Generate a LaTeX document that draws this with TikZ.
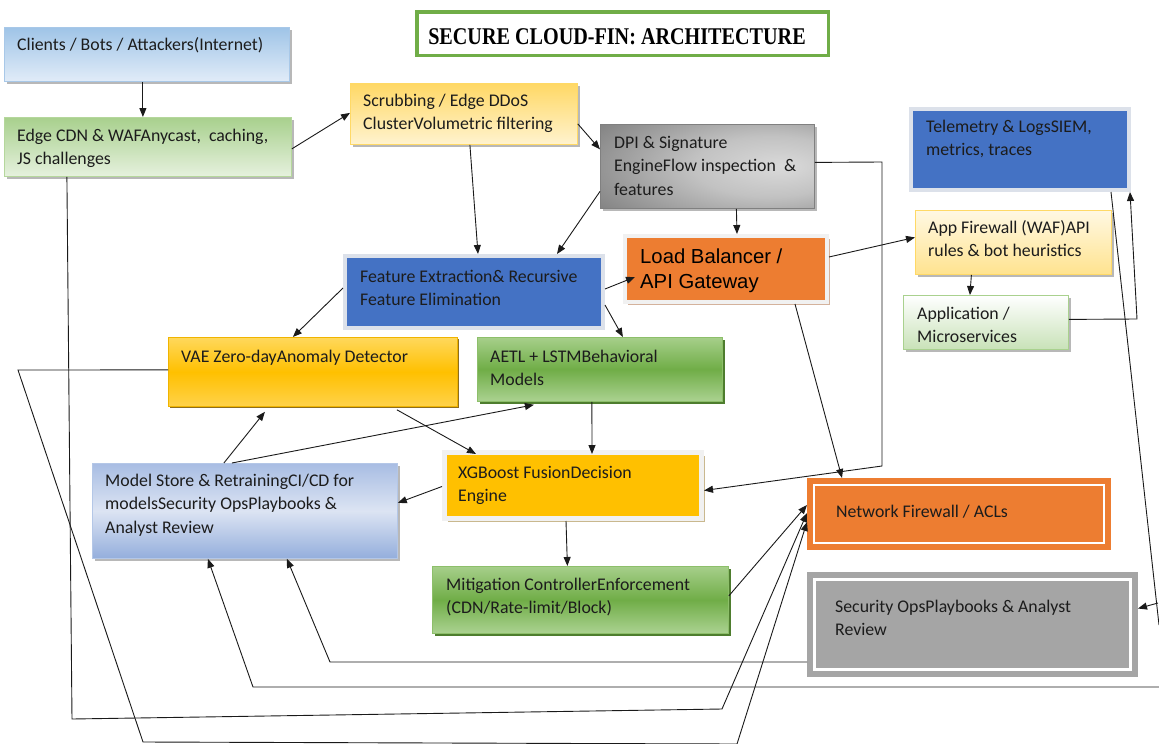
\documentclass[tikz,border=0pt]{standalone}
\usepackage{fontspec}
\setmainfont{Carlito}
\newfontfamily\arialfont{Liberation Sans}
\newfontfamily\titlefont{Liberation Serif}
\usetikzlibrary{arrows.meta,shadows,calc}

\definecolor{ink}{HTML}{1C1C1C}
\definecolor{wire}{HTML}{1A1A1A}
\definecolor{cliTop}{HTML}{9FC4E7}
\definecolor{cliBot}{HTML}{E1ECF8}
\definecolor{cliEdge}{HTML}{A8C8E8}
\definecolor{edgeTop}{HTML}{A8D08D}
\definecolor{edgeBot}{HTML}{E6F1DE}
\definecolor{edgeLine}{HTML}{B5D79C}
\definecolor{scrTop}{HTML}{FFD865}
\definecolor{scrBot}{HTML}{FFF3CF}
\definecolor{scrLine}{HTML}{FFD966}
\definecolor{dpiIn}{HTML}{DADADA}
\definecolor{dpiMid}{HTML}{C2C2C2}
\definecolor{dpiOut}{HTML}{666666}
\definecolor{accBlue}{HTML}{4472C4}
\definecolor{blueFrame}{HTML}{DCE1EA}
\definecolor{accOrange}{HTML}{ED7D31}
\definecolor{paleFrame}{HTML}{F1F1F1}
\definecolor{tanShadow}{HTML}{D4B29C}
\definecolor{wafTop}{HTML}{FFF8E3}
\definecolor{wafBot}{HTML}{FFE38F}
\definecolor{appTop}{HTML}{FFFFFF}
\definecolor{appBot}{HTML}{C9E2B8}
\definecolor{appLine}{HTML}{A9D18E}
\definecolor{vaeTop}{HTML}{FFD85C}
\definecolor{vaeMid}{HTML}{FFC000}
\definecolor{vaeBot}{HTML}{FFD24A}
\definecolor{vaeLine}{HTML}{F0B400}
\definecolor{vaeShadow}{HTML}{8C6D1F}
\definecolor{grnTop}{HTML}{A6CF8A}
\definecolor{grnMid}{HTML}{70AD47}
\definecolor{grnBot}{HTML}{ABD291}
\definecolor{grnLine}{HTML}{8DBF6A}
\definecolor{grnShadow}{HTML}{4E7D2E}
\definecolor{msTop}{HTML}{A8BDE3}
\definecolor{msMid}{HTML}{DCE4F3}
\definecolor{msBot}{HTML}{94AEDC}
\definecolor{msLine}{HTML}{B4C7E7}
\definecolor{gold}{HTML}{FFC000}
\definecolor{goldShadow}{HTML}{C9B88E}
\definecolor{opsGray}{HTML}{A5A5A5}
\definecolor{titleGreen}{HTML}{70AD47}
\definecolor{softShadow}{HTML}{B8B8B8}

% light-centred grey shading for the DPI engine
\pgfdeclareradialshading{dpishade}{\pgfpoint{18bp}{0bp}}{%
  color(0bp)=(dpiIn); color(18bp)=(dpiMid); color(55bp)=(dpiOut); color(100bp)=(dpiOut)}

\begin{document}
\begin{tikzpicture}[x=1pt,y=-1pt,
  box/.style={rectangle, anchor=north west, inner sep=0pt},
  shd/.style 2 args={drop shadow={shadow xshift=#1, shadow yshift=-#1, opacity=1, fill=#2}},
  txt/.style={anchor=north west, inner sep=0pt, align=left, text=ink,
              font=\fontsize{17.8}{23.5}\selectfont, yshift=16.45pt},
  bigtxt/.style={anchor=north west, inner sep=0pt, align=left, text=black,
              font=\arialfont\fontsize{20.3}{25}\selectfont, yshift=17.5pt},
  ln/.style={draw=wire, line width=0.9pt},
  arr/.style={ln, -{Triangle[length=9pt,width=7pt]}}
]
\useasboundingbox (0,0) rectangle (1159,744);
\fill[white] (0,0) rectangle (1159,744);

% ---------- title ----------
\node[box, draw=titleGreen, line width=3.5pt, fill=white,
      minimum width=411.5pt, minimum height=43.5pt] (title) at (415,10) {};
\node[anchor=base, inner sep=0pt] (title-t) at (617,44)
  {\scalebox{0.84}[1]{\titlefont\bfseries\fontsize{24}{28}\selectfont SECURE CLOUD-FIN: ARCHITECTURE}};

% ---------- boxes ----------
\node[box, top color=cliTop, bottom color=cliBot, draw=cliEdge, line width=0.8pt,
      shd={3pt}{softShadow}, minimum width=285pt, minimum height=54pt] (clients) at (4,27) {};
\node[box, top color=edgeTop, bottom color=edgeBot, draw=edgeLine, line width=0.8pt,
      shd={3pt}{softShadow}, minimum width=287pt, minimum height=59pt] (edge) at (4,117) {};
\node[box, top color=scrTop, bottom color=scrBot, draw=scrLine, line width=0.8pt,
      shd={3pt}{softShadow}, minimum width=227pt, minimum height=61pt] (scrub) at (350,83) {};
\node[box, shading=dpishade, draw=gray, line width=0.8pt,
      shd={3pt}{softShadow}, minimum width=214pt, minimum height=84pt] (dpi) at (600,124) {};
\node[box, fill=accBlue, draw=blueFrame, line width=4pt,
      minimum width=258pt, minimum height=72pt] (fe) at (343,254) {};
\node[box, fill=accOrange, draw=paleFrame, line width=4pt,
      shd={2.5pt}{tanShadow}, minimum width=202pt, minimum height=66pt] (lb) at (623,234) {};
\node[box, fill=accBlue, draw=blueFrame, line width=4pt,
      shd={2pt}{softShadow}, minimum width=218pt, minimum height=81pt] (tel) at (909,107) {};
\node[box, top color=wafTop, bottom color=wafBot, draw=scrLine, line width=0.8pt,
      shd={3pt}{softShadow}, minimum width=196pt, minimum height=64pt] (appfw) at (915,210) {};
\node[box, top color=appTop, bottom color=appBot, draw=appLine, line width=0.8pt,
      shd={3pt}{softShadow}, minimum width=165pt, minimum height=54pt] (app) at (903,295) {};
\node[box, top color=vaeTop, bottom color=vaeBot, middle color=vaeMid, draw=vaeLine, line width=0.8pt,
      shd={2pt}{vaeShadow}, minimum width=289pt, minimum height=69pt] (vae) at (168,337) {};
\node[box, top color=grnTop, bottom color=grnBot, middle color=grnMid, draw=grnLine, line width=0.8pt,
      shd={2.5pt}{grnShadow}, minimum width=245pt, minimum height=64pt] (aetl) at (477,337) {};
\node[box, top color=msTop, bottom color=msBot, middle color=msMid, draw=msLine, line width=0.8pt,
      shd={3pt}{softShadow}, minimum width=305pt, minimum height=95pt] (ms) at (92,463) {};
\node[box, fill=gold, draw=paleFrame, line width=5pt,
      shd={3pt}{goldShadow}, minimum width=257pt, minimum height=66pt] (xgb) at (442,450) {};
\node[box, top color=grnTop, bottom color=grnBot, middle color=grnMid, draw=grnLine, line width=0.8pt,
      shd={2.5pt}{grnShadow}, minimum width=296pt, minimum height=67pt] (mit) at (432,566) {};
\node[box, fill=accOrange, draw=accOrange, line width=6pt, double=white, double distance=2pt,
      outer sep=7pt, minimum width=290pt, minimum height=58pt] (nfw) at (807,478) {};
\node[box, fill=opsGray, draw=opsGray, line width=6pt, double=white, double distance=3pt,
      outer sep=7.5pt, minimum width=316pt, minimum height=90pt] (sec) at (807,572) {};

% ---------- labels ----------
\node[txt] (clients-t) at (17,50) {\strut Clients / Bots / Attackers(Internet)};
\node[txt] (edge-t) at (17,141) {\strut Edge CDN \& WAFAnycast,~ caching,\\JS challenges};
\node[txt] (scrub-t) at (363,106) {\strut Scrubbing / Edge DDoS\\ClusterVolumetric filtering};
\node[txt] (dpi-t) at (614,148) {\strut DPI \& Signature\\EngineFlow inspection~ \&\\features};
\node[txt] (fe-t) at (360,282) {\strut Feature Extraction\& Recursive\\Feature Elimination};
\node[bigtxt] (lb-t) at (640,263) {\strut Load Balancer /\\API Gateway};
\node[txt] (tel-t) at (926,132) {\strut Telemetry \& LogsSIEM,\\metrics, traces};
\node[txt] (appfw-t) at (928,233) {\strut App Firewall (WAF)API\\rules \& bot heuristics};
\node[txt] (app-t) at (917,319) {\strut Application /\\Microservices};
\node[txt] (vae-t) at (181,362) {\strut VAE Zero-dayAnomaly Detector};
\node[txt] (aetl-t) at (490,362) {\strut AETL + LSTMBehavioral\\Models};
\node[txt] (ms-t) at (105,486) {\strut Model Store \& RetrainingCI/CD for\\modelsSecurity OpsPlaybooks \&\\Analyst Review};
\node[txt] (xgb-t) at (458,478) {\strut XGBoost FusionDecision\\Engine};
\node[txt] (mit-t) at (446,590) {\strut Mitigation ControllerEnforcement\\(CDN/Rate-limit/Block)};
\node[txt] (nfw-t) at (836,517) {\strut Network Firewall / ACLs};
\node[txt] (sec-t) at (835,612) {\strut Security OpsPlaybooks \& Analyst\\Review};

% ---------- bends and loose ends of the wiring ----------
\coordinate (telBend) at (1137,319);
\coordinate (dpiBendA) at (882,162);
\coordinate (dpiBendB) at (882,466);
\coordinate (telOut) at (1159,625);
\coordinate (secIn) at (1158,603);
\coordinate (opsBend) at (330,662);
\coordinate (longIn) at (1159,687);
\coordinate (longBend) at (253,687);
\coordinate (edgeBendA) at (72,719);
\coordinate (edgeBendB) at (722,709);
\coordinate (vaeBendA) at (18,370);
\coordinate (vaeBendB) at (143,742);
\coordinate (vaeBendC) at (737,744);

% ---------- connectors ----------
\draw[arr] ([xshift=-4pt]clients.south) -- ([xshift=-5pt]edge.north);
\draw[arr] ([yshift=-2pt]edge.east) -- ([yshift=1pt]scrub.west);
\draw[arr] ([yshift=-10pt]scrub.east) -- ([yshift=17pt]dpi.west);
\draw[arr] ([xshift=6pt]scrub.south) -- ([xshift=4pt]fe.north);
\draw[arr] ([yshift=-25pt]dpi.west) -- ([xshift=83pt]fe.north);
\draw[arr] ([xshift=29pt]dpi.south) -- ([xshift=11pt]lb.north);
\draw[arr] ([yshift=3pt]fe.east) -- ([xshift=12pt,yshift=-8pt]lb.west);
\draw[arr] ([yshift=-13pt]fe.east) -- ([xshift=23pt]aetl.north);
\draw[arr] ([yshift=4pt]fe.west) -- ([xshift=-20pt]vae.north);
\draw[arr] ([yshift=12pt]lb.east) -- ([yshift=5pt]appfw.west);
\draw[arr] ([xshift=-42pt]appfw.south) -- ([xshift=-16pt]app.north);
\draw[arr] ([yshift=3pt]app.east) -- (telBend) -- ([xshift=-1pt]tel.south east);
\draw[arr] ([yshift=4pt]dpi.east) -- (dpiBendA) -- (dpiBendB) -- ([yshift=-5pt]xgb.east);
\draw[arr] ([xshift=69pt]lb.south) -- ([xshift=-117pt]nfw.north);
\draw[arr] ([xshift=84pt,yshift=-3pt]vae.south) -- ([xshift=-97pt,yshift=-4pt]xgb.north);
\draw[arr] ([xshift=-8pt]aetl.south) -- ([xshift=19pt,yshift=-4pt]xgb.north);
\draw[arr] ([yshift=-1pt]xgb.west) -- ([yshift=8pt]ms.east);
\draw[arr] ([xshift=-21pt]ms.north) -- ([xshift=-48pt,yshift=-5pt]vae.south);
\draw[arr] ([xshift=-13pt]ms.north) -- ([xshift=-66pt,yshift=-3pt]aetl.south);
\draw[arr] ([xshift=-7pt]xgb.south) -- ([xshift=-13pt]mit.north);
\draw[arr] ([yshift=4pt]mit.east) -- ([yshift=9pt]nfw.west);
\draw[ln] ([xshift=-20pt]tel.south east) -- (telOut);
\draw[arr] (secIn) -- ([yshift=16pt]sec.east);
\draw[arr] ([yshift=-37.5pt]sec.west) -- (opsBend) -- ([xshift=42pt]ms.south);
\draw[arr] (longIn) -- (longBend) -- ([xshift=-37pt]ms.south);
\draw[arr] ([xshift=-81pt]edge.south) -- (edgeBendA) -- (edgeBendB) -- ([yshift=1pt]nfw.west);
\draw[arr] ([yshift=2pt]vae.west) -- (vaeBendA) -- (vaeBendB) -- (vaeBendC) -- ([yshift=-8pt]nfw.west);
\end{tikzpicture}
\end{document}
